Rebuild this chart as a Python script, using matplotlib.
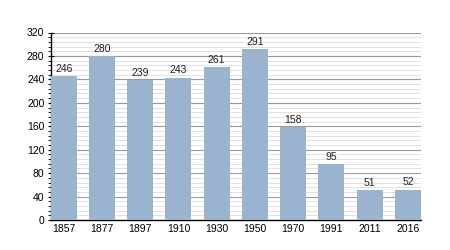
import matplotlib.pyplot as plt
from matplotlib.ticker import MultipleLocator

plt.rcParams['font.family'] = ['Liberation Sans', 'DejaVu Sans']

years = ["1857", "1877", "1897", "1910", "1930", "1950", "1970", "1991", "2011", "2016"]
population = [246, 280, 239, 243, 261, 291, 158, 95, 51, 52]

fig = plt.figure(figsize=(4.5, 2.5), dpi=100)
ax = fig.add_axes([0.1125, 0.12, 0.823, 0.75])

x = range(len(years))
w = 0.68
bars = ax.bar(x, population, width=w, color="#9ab3cf", zorder=3)
for b, v in zip(bars, population):
    ax.text(b.get_x() + b.get_width() / 2, v + 4, str(v), ha="center", va="bottom",
            fontsize=7.5, color="#222222", zorder=4)

ax.set_xlim(-w / 2, len(years) - 1 + w / 2)
ax.set_ylim(0, 320)
ax.yaxis.set_major_locator(MultipleLocator(40))
ax.yaxis.set_minor_locator(MultipleLocator(8))
ax.grid(which="major", axis="y", color="#999999", linewidth=0.8, zorder=0)
ax.grid(which="minor", axis="y", color="#dddddd", linewidth=0.6, zorder=0)

ax.set_xticks(list(x))
ax.set_xticklabels(years)
ax.tick_params(axis="x", length=0, labelsize=7.5, pad=3)
ax.tick_params(axis="y", which="major", length=5, direction="inout", labelsize=7.5, pad=2)
ax.tick_params(axis="y", which="minor", length=2.5, direction="out")

for s in ["top", "right"]:
    ax.spines[s].set_visible(False)
ax.spines["left"].set_linewidth(1)
ax.spines["bottom"].set_linewidth(1)

fig.savefig("out.png", dpi=100)
